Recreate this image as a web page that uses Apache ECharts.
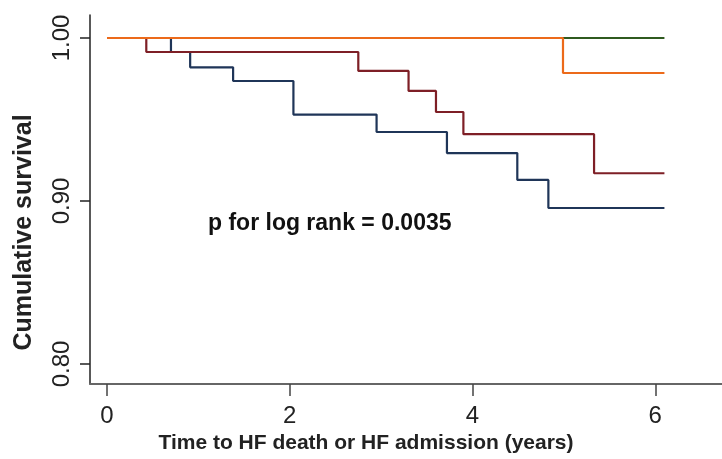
<!DOCTYPE html>
<html>
<head>
<meta charset="utf-8">
<script src="https://cdn.jsdelivr.net/npm/echarts@6/dist/echarts.min.js"></script>
<style>html,body{margin:0;padding:0;background:#fff}#c{width:722px;height:459px}</style>
</head>
<body>
<div id="c"></div>
<script>
// Kaplan-Meier step curves (time in years, cumulative survival)
const blueTimes = [0, 0.70, 0.91, 1.38, 2.04, 2.95, 3.72, 4.49, 4.83, 6.10];
const blueSurv  = [1.0, 0.9914, 0.982, 0.9736, 0.953, 0.9423, 0.9294, 0.9129, 0.8957, 0.8957];
const redTimes  = [0, 0.43, 2.75, 3.30, 3.60, 3.90, 5.33, 6.10];
const redSurv   = [1.0, 0.9914, 0.9798, 0.9675, 0.9546, 0.941, 0.917, 0.917];
const greenTimes = [0, 6.10];
const greenSurv  = [1.0, 1.0];
const orangeTimes = [0, 4.99, 6.10];
const orangeSurv  = [1.0, 0.9785, 0.9785];
const xTicks = [0, 2, 4, 6];
const yTicks = [0.80, 0.90, 1.00];
const pText = 'p for log rank = 0.0035';

const zip = (t, s) => t.map((v, i) => [v, s[i]]);
const chart = echarts.init(document.getElementById('c'), null, {renderer: 'canvas'});
const lineSeries = (name, t, s, color) => ({
  name, type: 'line', step: 'end', data: zip(t, s), symbol: 'none',
  lineStyle: {color, width: 2.2}, animation: false
});
chart.setOption({
  animation: false,
  grid: {left: 90, top: 15, right: 0, bottom: 75},
  xAxis: {
    type: 'value', min: -0.186, max: 6.73,
    axisLine: {show: true, onZero: false, lineStyle: {color: '#666', width: 2}},
    axisTick: {show: true, customValues: xTicks, length: 12, lineStyle: {color: '#444', width: 1.5}},
    axisLabel: {customValues: xTicks, margin: 20, fontSize: 24, color: '#222', fontFamily: 'Liberation Sans Narrow, Liberation Sans, Arial'},
    splitLine: {show: false},
    name: 'Time to HF death or HF admission (years)', nameLocation: 'middle', nameGap: 46,
    nameTextStyle: {fontSize: 21, fontWeight: 'bold', color: '#222', fontFamily: 'Liberation Sans, Arial', padding: [0, 80, 0, 0]}
  },
  yAxis: {
    type: 'value', min: 0.7877, max: 1.0141,
    axisLine: {show: true, onZero: false, lineStyle: {color: '#222', width: 1.5}},
    axisTick: {show: true, customValues: yTicks, length: 10, lineStyle: {color: '#222', width: 1.5}},
    axisLabel: {customValues: yTicks, rotate: 90, margin: 16, fontSize: 24, color: '#222',
      fontFamily: 'Liberation Sans Narrow, Liberation Sans, Arial',
      formatter: v => v.toFixed(2)},
    splitLine: {show: false},
    name: 'Cumulative survival', nameLocation: 'middle', nameGap: 53, nameRotate: 90,
    nameTextStyle: {fontSize: 25, fontWeight: 'bold', color: '#222', fontFamily: 'Liberation Sans, Arial', padding: [0, 66, 0, 0]}
  },
  graphic: [{
    type: 'text', left: 208, top: 212,
    style: {text: pText, fontSize: 23, fontWeight: 'bold', fill: '#111', fontFamily: 'Liberation Sans, Arial'}
  }],
  series: [
    lineSeries('green', greenTimes, greenSurv, '#2f5a1f'),
    lineSeries('blue', blueTimes, blueSurv, '#1f3558'),
    lineSeries('red', redTimes, redSurv, '#7e1f26'),
    lineSeries('orange', orangeTimes, orangeSurv, '#ec6a1a')
  ]
});
</script>
</body>
</html>
